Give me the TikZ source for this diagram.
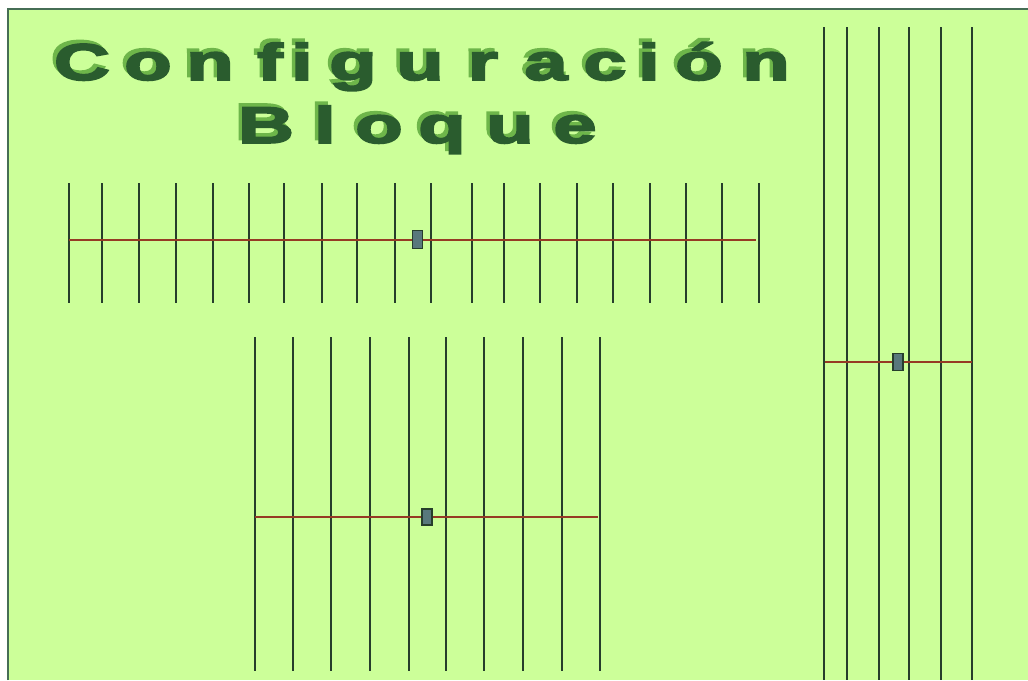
\documentclass[tikz,border=0pt]{standalone}
\usepackage{fontspec}
\setmainfont{Liberation Sans}
\newfontfamily\titlefont{Liberation Sans Bold}[FakeBold=3]
\definecolor{bg}{RGB}{204,255,153}
\definecolor{ink}{RGB}{42,92,46}
\definecolor{shade}{RGB}{110,182,74}
\definecolor{rodc}{RGB}{38,62,44}
\definecolor{boomc}{RGB}{150,58,36}
\definecolor{feedc}{RGB}{88,120,124}
\definecolor{edgec}{RGB}{70,110,85}
\newcommand\shadowedletter[1]{\makebox[0pt][l]{\hspace{-3.5pt}\raisebox{3.5pt}{\textcolor{shade}{\scalebox{1.5}[1]{#1}}}}\textcolor{ink}{\scalebox{1.5}[1]{#1}}}
\tikzset{
  rod/.style={draw=rodc, line width=2},
  boomline/.style={draw=boomc, line width=1.6},
  feedbox/.style={draw=rodc, fill=feedc, line width=1.2, minimum width=10, minimum height=18, inner sep=0},
  letter/.style={font=\titlefont\fontsize{51.7}{60}\selectfont, anchor=base, inner sep=0}
}
\begin{document}
\begin{tikzpicture}[x=1pt,y=-1pt]
\useasboundingbox (0,0) rectangle (1028,680);
\fill[white] (0,0) rectangle (1028,680);
\fill[bg] (8,9) rectangle (1028,680);
\draw[edgec, line width=1.5] (8,680) -- (8,9) -- (1028,9);
% title line 1
\foreach \ch/\x [count=\i] in {C/82,o/148,n/210,f/270,i/302,g/353,u/420,r/483,a/546,c/605,i/649,ó/699,n/766}{
  \node[letter] (t\i) at (\x,80) {\shadowedletter{\ch}};
}
% title line 2
\foreach \ch/\x [count=\i] in {B/266,l/325,o/379,q/442,u/510,e/575}{
  \node[letter] (bt\i) at (\x,143) {\shadowedletter{\ch}};
}
% top antenna
\foreach \x in {69.3,102.3,139.3,175.7,212.7,248.7,284.3,321.7,357.3,394.7,430.7,472,503.7,539.7,576.7,612.7,650,685.7,721.7,759}{
  \draw[rod] (\x,183) -- (\x,303);
}
\coordinate (a1) at (69.3,240);
\coordinate (a2) at (755.7,240);
\draw[boomline] (a1) -- (a2);
\node[feedbox] (f1) at (417.7,239.7) {};
% bottom antenna
\foreach \x in {255.3,292.7,331.3,369.7,408.7,445.7,484.3,523,561.7,600}{
  \draw[rod] (\x,337) -- (\x,671);
}
\coordinate (b1) at (255.3,517);
\coordinate (b2) at (598.3,517);
\draw[boomline] (b1) -- (b2);
\node[feedbox, minimum height=16] (f2) at (427,517) {};
% right antenna
\foreach \x in {823.7,847.3,879,909.3,941.3,971.7}{
  \draw[rod] (\x,27) -- (\x,680);
}
\coordinate (c1) at (825,361.7);
\coordinate (c2) at (971.7,361.7);
\draw[boomline] (c1) -- (c2);
\node[feedbox, minimum height=17] (f3) at (898,361.7) {};
\end{tikzpicture}
\end{document}
